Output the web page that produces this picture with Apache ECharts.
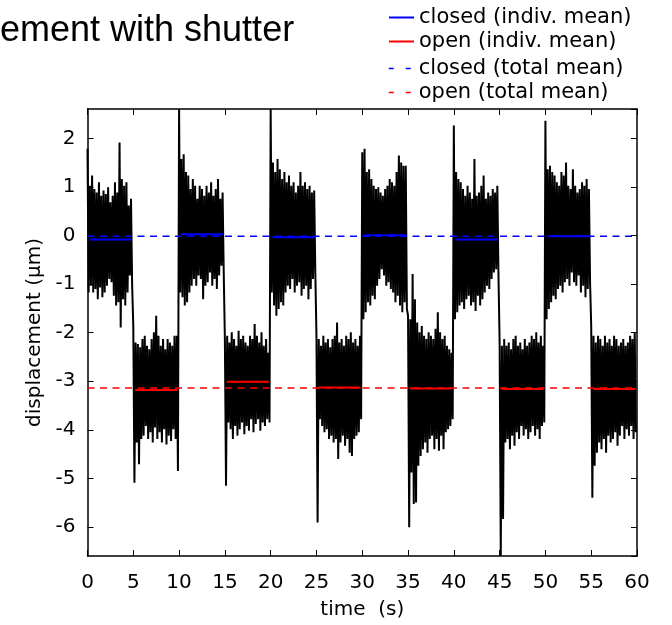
<!DOCTYPE html>
<html>
<head>
<meta charset="utf-8">
<script src="https://cdn.jsdelivr.net/npm/echarts@6/dist/echarts.min.js"></script>
<style>
  html, body { margin: 0; padding: 0; background: #fff; }
  #chart { width: 672px; height: 625px; }
</style>
</head>
<body>
<div id="chart"></div>
<script>
// ---- data ----
const titleText = 'ement with shutter';
const xAxisName = 'time  (s)';
const yAxisName = 'displacement (\u00b5m)';
const xTicks = [0, 5, 10, 15, 20, 25, 30, 35, 40, 45, 50, 55, 60];
const yTicks = [-6, -5, -4, -3, -2, -1, 0, 1, 2];

// sample spacing of the envelope readings (s)
const sampleStep = 0.25;

// upper envelope of the measured displacement (µm), one value every 0.25 s
const upperEnvelope = [
  // 0-5 s (closed)
  1.79, 1.03, 1.24, 0.96, 0.89, 1.10, 0.82, 0.93, 0.86, 1.00, 0.69, 0.82, 1.10, 0.89, 1.92, 1.17, 1.03, 1.10, 0.62, 0.76,
  // 5-10 s (open)
  -1.86, -2.20, -2.23, -2.30, -2.13, -2.06, -2.27, -2.34, -2.13, -1.99, -1.65, -2.06, -2.27, -2.13, -2.34, -2.13, -2.20, -2.27, -2.06, -2.06,
  // 10-15 s (closed)
  2.61, 1.58, 1.68, 1.31, 1.24, 0.96, 1.17, 1.03, 0.76, 1.03, 0.96, 0.82, 1.03, 0.89, 1.10, 0.82, 0.96, 1.17, 0.76, 0.89,
  // 15-20 s (open)
  -2.13, -2.06, -2.20, -1.99, -2.13, -2.27, -1.96, -2.13, -2.06, -2.20, -2.27, -2.06, -2.13, -1.82, -2.06, -2.20, -1.99, -2.27, -2.13, -2.41,
  // 20-25 s (closed)
  2.61, 1.51, 1.31, 1.58, 1.37, 1.17, 1.31, 1.10, 1.24, 1.03, 1.10, 0.89, 1.03, 1.31, 1.03, 1.10, 0.96, 1.03, 0.89, 0.93,
  // 25-30 s (open)
  -2.06, -2.13, -2.27, -2.06, -2.20, -2.13, -2.30, -2.13, -2.06, -1.79, -2.20, -2.13, -2.27, -2.06, -2.13, -1.99, -2.20, -2.13, -2.27, -2.06,
  // 30-35 s (closed)
  1.72, 1.79, 1.31, 1.37, 1.17, 1.03, 0.96, 1.00, 0.89, 0.82, 0.96, 1.03, 1.17, 1.10, 1.03, 1.31, 1.65, 1.51, 1.44, 1.44,
  // 35-40 s (open)
  -1.65, -1.72, -0.79, -1.31, -1.79, -1.99, -1.86, -2.06, -2.13, -1.99, -2.06, -2.13, -1.92, -1.58, -1.99, -2.13, -2.06, -2.27, -2.34, -2.41,
  // 40-45 s (closed)
  2.27, 1.31, 1.17, 1.10, 0.96, 0.82, 1.03, 0.89, 0.76, 1.58, 0.82, 0.89, 1.03, 1.24, 0.76, 0.89, 0.82, 0.96, 0.89, 1.03,
  // 45-50 s (open)
  -2.20, -2.27, -2.13, -2.27, -2.20, -2.34, -2.13, -2.06, -2.27, -2.20, -2.34, -2.13, -2.27, -2.20, -2.06, -2.13, -1.99, -2.20, -2.06, -2.27,
  // 50-55 s (closed)
  2.37, 1.37, 1.44, 1.31, 1.24, 1.10, 1.03, 1.31, 1.24, 1.51, 1.03, 0.96, 1.37, 1.03, 0.89, 0.96, 1.10, 1.03, 1.17, 0.96,
  // 55-60 s (open)
  -1.86, -2.06, -2.20, -2.06, -2.13, -2.27, -2.06, -2.20, -2.13, -2.27, -2.06, -2.13, -2.27, -2.20, -2.13, -2.27, -2.20, -2.06, -2.13, -1.99
];

// lower envelope of the measured displacement (µm), half a step after each upper value
const lowerEnvelope = [
  // 0-5 s
  -1.17, -1.03, -1.17, -1.10, -1.31, -1.07, -1.27, -1.17, -1.03, -0.89, -0.96, -1.24, -1.44, -1.37, -1.89, -1.31, -1.44, -1.17, -0.82, -1.03,
  // 5-10 s
  -5.09, -4.26, -4.71, -4.19, -4.12, -3.92, -4.19, -4.05, -4.26, -3.95, -4.19, -4.05, -4.26, -3.99, -4.30, -4.12, -4.23, -3.99, -4.19, -4.85,
  // 10-15 s
  -1.17, -1.27, -1.44, -1.37, -1.17, -1.03, -0.89, -1.03, -0.82, -0.89, -1.31, -1.03, -0.96, -0.76, -1.03, -0.89, -1.10, -0.82, -0.62, -0.76,
  // 15-20 s
  -5.15, -3.85, -3.99, -4.19, -3.92, -4.12, -3.99, -3.85, -4.09, -3.92, -4.02, -3.78, -4.05, -3.88, -3.78, -4.02, -3.85, -3.92, -3.78, -3.85,
  // 20-25 s
  -1.17, -1.44, -1.65, -1.51, -1.37, -1.44, -1.17, -1.03, -1.10, -0.89, -1.17, -1.03, -0.96, -1.24, -1.10, -1.03, -1.31, -1.10, -0.89, -0.76,
  // 25-30 s
  -5.91, -3.78, -3.92, -4.05, -3.99, -4.19, -4.12, -4.26, -4.19, -4.60, -4.26, -4.12, -4.33, -4.19, -4.47, -4.54, -4.19, -4.12, -4.05, -3.78,
  // 30-35 s
  -1.72, -1.58, -1.37, -1.44, -1.24, -1.31, -1.03, -0.89, -0.69, -0.82, -1.03, -0.96, -1.10, -1.17, -1.37, -1.24, -1.44, -1.58, -1.37, -1.51,
  // 35-40 s
  -6.01, -4.88, -5.53, -5.50, -4.74, -4.54, -4.40, -4.26, -4.47, -4.19, -4.12, -4.40, -4.19, -4.43, -4.12, -4.40, -4.05, -3.99, -3.92, -3.78,
  // 40-45 s
  -1.72, -1.58, -1.44, -1.37, -1.51, -1.31, -1.24, -1.44, -1.37, -1.55, -1.24, -1.44, -1.31, -1.17, -1.03, -1.10, -0.89, -0.76, -0.69, -0.82,
  // 45-50 s
  -6.60, -5.84, -4.26, -4.19, -4.40, -4.12, -4.33, -4.05, -4.19, -3.92, -4.12, -3.99, -4.19, -4.05, -3.92, -4.12, -3.99, -4.19, -3.92, -3.85,
  // 50-55 s
  -1.72, -1.51, -1.37, -1.24, -1.31, -1.10, -1.03, -1.17, -0.96, -0.89, -1.03, -0.76, -0.96, -1.03, -0.82, -1.17, -1.03, -1.27, -1.10, -0.96,
  // 55-60 s
  -5.40, -4.74, -4.47, -4.26, -4.40, -4.19, -4.47, -4.12, -4.26, -4.19, -4.05, -4.33, -4.12, -3.92, -4.19, -3.99, -4.12, -3.92, -4.19, -4.05
];

// individual means of each shutter phase
const closedStarts = [0, 10, 20, 30, 40, 50];
const closedMeans = [-0.08, 0.03, -0.03, 0.01, -0.08, -0.01];
const openStarts = [5, 15, 25, 35, 45, 55];
const openMeans = [-3.18, -3.01, -3.13, -3.15, -3.16, -3.16];
const meanWindow = [0.2, 4.8];   // part of each 5 s phase the mean line covers

// total means
const closedTotalMean = -0.01;
const openTotalMean = -3.14;

const xRange = [0, 60];
const yRange = [-6.60, 2.61];

// ---- build the chart ----
const FONT = 'DejaVu Sans';
const zigzag = [];
for (let i = 0; i < upperEnvelope.length; i++) {
  const t = i * sampleStep;
  zigzag.push([t, upperEnvelope[i]]);
  zigzag.push([t + sampleStep / 2, lowerEnvelope[i]]);
}

const names = {
  ci: 'closed (indiv. mean)',
  oi: 'open (indiv. mean)',
  ct: 'closed (total mean)',
  ot: 'open (total mean)'
};

const series = [{
  name: 'signal',
  type: 'line',
  data: zigzag,
  symbol: 'none',
  lineStyle: { color: '#000', width: 2, join: 'bevel' },
  silent: true,
  z: 2
}];

closedStarts.forEach((s, k) => {
  series.push({
    name: names.ci, type: 'line', symbol: 'none', silent: true, z: 3,
    data: [[s + meanWindow[0], closedMeans[k]], [s + meanWindow[1], closedMeans[k]]],
    lineStyle: { color: '#0000ff', width: 2 }, itemStyle: { color: '#0000ff' }
  });
});
openStarts.forEach((s, k) => {
  series.push({
    name: names.oi, type: 'line', symbol: 'none', silent: true, z: 3,
    data: [[s + meanWindow[0], openMeans[k]], [s + meanWindow[1], openMeans[k]]],
    lineStyle: { color: '#ff0000', width: 2 }, itemStyle: { color: '#ff0000' }
  });
});
series.push({
  name: names.ct, type: 'line', symbol: 'none', silent: true, z: 4,
  data: [[xRange[0], closedTotalMean], [xRange[1], closedTotalMean]],
  lineStyle: { color: '#0000ff', width: 1.5, type: [7, 5.5] }, itemStyle: { color: '#0000ff' }
});
series.push({
  name: names.ot, type: 'line', symbol: 'none', silent: true, z: 4,
  data: [[xRange[0], openTotalMean], [xRange[1], openTotalMean]],
  lineStyle: { color: '#ff0000', width: 1.5, type: [7, 5.5] }, itemStyle: { color: '#ff0000' }
});

const hiddenSymbol = { color: 'rgba(0,0,0,0)', borderWidth: 0, opacity: 0 };
const legendCommon = {
  orient: 'vertical',
  left: 388,
  padding: 0,
  itemWidth: 25,
  itemHeight: 14,
  itemGap: 3,
  textStyle: { fontFamily: FONT, fontSize: 21, color: '#000' },
  selectedMode: false
};

const axisLine = { show: true, onZero: false, lineStyle: { color: '#000', width: 1.5 } };
const tickIn = { show: true, inside: true, length: 6, lineStyle: { color: '#000', width: 1 } };
const intLabel = v => (Math.abs(v - Math.round(v)) < 1e-6 && yTicks.indexOf(Math.round(v)) >= 0) ? String(Math.round(v)) : '';
const xLabel = v => (xTicks.indexOf(v) >= 0 ? String(v) : '');

const chart = echarts.init(document.getElementById('chart'), null, { renderer: 'canvas' });
chart.setOption({
  animation: false,
  backgroundColor: '#fff',
  title: {
    text: titleText,
    left: 0,
    top: 13,
    padding: 0,
    textStyle: { fontFamily: 'Liberation Sans', fontSize: 36, fontWeight: 'normal', color: '#000' }
  },
  legend: [
    Object.assign({}, legendCommon, {
      top: 7,
      data: [
        { name: names.ci, itemStyle: hiddenSymbol, lineStyle: { color: '#0000ff', width: 2, type: 'solid' } },
        { name: names.oi, itemStyle: hiddenSymbol, lineStyle: { color: '#ff0000', width: 2, type: 'solid' } }
      ]
    }),
    Object.assign({}, legendCommon, {
      top: 58,
      data: [
        { name: names.ct, itemStyle: hiddenSymbol, lineStyle: { color: '#0000ff', width: 1.5, type: [5, 12] } },
        { name: names.ot, itemStyle: hiddenSymbol, lineStyle: { color: '#ff0000', width: 1.5, type: [5, 12] } }
      ]
    })
  ],
  grid: { left: 87.5, right: 35, top: 109, bottom: 68, containLabel: false },
  xAxis: [{
    type: 'value', position: 'bottom', min: xRange[0], max: xRange[1], interval: 5,
    name: xAxisName, nameLocation: 'middle', nameGap: 44,
    nameTextStyle: { fontFamily: FONT, fontSize: 20, color: '#000' },
    axisLine: axisLine, axisTick: tickIn,
    axisLabel: { fontFamily: FONT, fontSize: 20, color: '#000', margin: 17, formatter: xLabel },
    splitLine: { show: false }
  }, {
    type: 'value', position: 'top', min: xRange[0], max: xRange[1], interval: 5,
    axisLine: axisLine, axisTick: tickIn, axisLabel: { show: false }, splitLine: { show: false }
  }],
  yAxis: [{
    type: 'value', position: 'left', min: yRange[0], max: yRange[1], splitNumber: 9,
    name: yAxisName, nameLocation: 'middle', nameGap: 42, nameRotate: 90,
    nameTextStyle: { fontFamily: FONT, fontSize: 20, color: '#000' },
    axisLine: axisLine, axisTick: tickIn,
    axisLabel: { fontFamily: FONT, fontSize: 20, color: '#000', margin: 12, formatter: intLabel, showMinLabel: false, showMaxLabel: false },
    splitLine: { show: false }
  }, {
    type: 'value', position: 'right', min: yRange[0], max: yRange[1], splitNumber: 9,
    axisLine: axisLine, axisTick: tickIn, axisLabel: { show: false }, splitLine: { show: false }
  }],
  series: series
});
</script>
</body>
</html>
